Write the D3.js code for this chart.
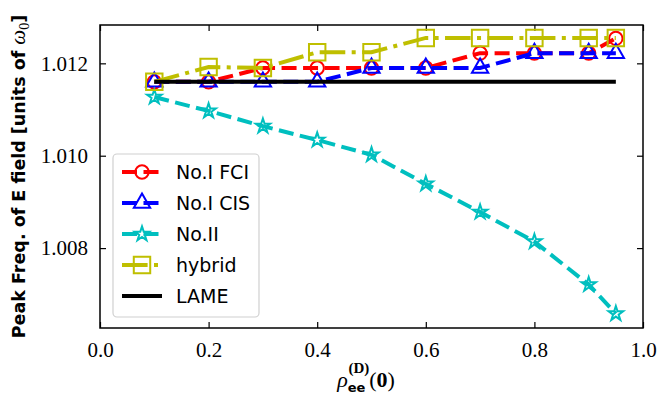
<!DOCTYPE html>
<html>
<head>
  <meta charset="utf-8">
  <title>Peak frequency vs rho</title>
  <script src="https://d3js.org/d3.v7.min.js"></script>
  <style type="text/css">
    body { margin: 0; background: #fff; }
    .tick text { font-family: "Liberation Serif", serif; font-size: 21px; }
  </style>
</head>
<body>
<script>

var width = 660;
var height = 399;
var margin = {top: 25, right: 17, bottom: 71, left: 100};

// data
var rho = [0.1, 0.2, 0.3, 0.4, 0.5, 0.6, 0.7, 0.8, 0.9, 0.95];
var fci = [1.0116, 1.0116, 1.0119, 1.0119, 1.0119, 1.0119, 1.01222, 1.01222, 1.01222, 1.01254];
var cis = [1.0116, 1.0116, 1.0116, 1.0116, 1.0119, 1.0119, 1.0119, 1.01222, 1.01222, 1.01222];
var no2 = [1.01127, 1.01097, 1.01064, 1.01034, 1.01002, 1.00939, 1.00878, 1.00814, 1.00721, 1.00658];
var hybrid = [1.0116, 1.01192, 1.0119, 1.01224, 1.01224, 1.01255, 1.01255, 1.01255, 1.01255, 1.01255];
var lame = [1.0116, 1.0116, 1.0116, 1.0116, 1.0116, 1.0116, 1.0116, 1.0116, 1.0116, 1.0116];

var xTicks = [0.0, 0.2, 0.4, 0.6, 0.8, 1.0];
var yTicks = [1.008, 1.010, 1.012];

var lw = 4;
var series = [
  {name: "No.I FCI", values: fci, color: "#ff0000", dash: "15,6.5", symbol: d3.symbolCircle, size: 140},
  {name: "No.I CIS", values: cis, color: "#0000ff", dash: "15,6.5", symbol: d3.symbolTriangle, size: 115},
  {name: "No.II", values: no2, color: "#00bfbf", dash: "15,6.5", symbol: d3.symbolStar, size: 65},
  {name: "hybrid", values: hybrid, color: "#bfbf00", dash: "25.6,6.4,4,6.4", symbol: d3.symbolSquare, size: 270},
  {name: "LAME", values: lame, color: "#000000", dash: null, symbol: null}
];

var svg = d3.select("body").append("svg").attr("width", width).attr("height", height);

var x = d3.scaleLinear().domain([0, 1]).range([margin.left, width - margin.right]);
var y = d3.scaleLinear().domain([1.00627, 1.01283]).range([height - margin.bottom, margin.top]);

// axes, ticks pointing inward
svg.append("g").attr("transform", "translate(0," + (height - margin.bottom) + ")")
  .call(d3.axisBottom(x).tickValues(xTicks).tickFormat(d3.format(".1f")).tickSizeInner(-6).tickSizeOuter(0).tickPadding(14));
svg.append("g").attr("transform", "translate(0," + margin.top + ")")
  .call(d3.axisTop(x).tickValues(xTicks).tickFormat("").tickSizeInner(-6).tickSizeOuter(0));
svg.append("g").attr("transform", "translate(" + margin.left + ",0)")
  .call(d3.axisLeft(y).tickValues(yTicks).tickFormat(d3.format(".3f")).tickSizeInner(-6).tickSizeOuter(0).tickPadding(12));
svg.append("g").attr("transform", "translate(" + (width - margin.right) + ",0)")
  .call(d3.axisRight(y).tickValues(yTicks).tickFormat("").tickSizeInner(-6).tickSizeOuter(0));

svg.selectAll(".domain").remove();
svg.selectAll(".tick line").attr("stroke", "#000").attr("stroke-width", 1.2);
svg.selectAll(".tick text").attr("fill", "#000");

// frame
svg.append("rect")
  .attr("x", margin.left).attr("y", margin.top)
  .attr("width", width - margin.left - margin.right)
  .attr("height", height - margin.top - margin.bottom)
  .attr("fill", "none").attr("stroke", "#000").attr("stroke-width", 1.5);

var line = d3.line()
  .x(function(d, i){ return x(rho[i]); })
  .y(function(d){ return y(d); });

series.forEach(function(s){
  svg.append("path")
    .datum(s.values)
    .attr("d", line)
    .attr("fill", "none")
    .attr("stroke", s.color)
    .attr("stroke-width", lw)
    .attr("stroke-dasharray", s.dash);
  if (s.symbol) {
    svg.selectAll(null)
      .data(s.values)
      .enter()
      .append("path")
      .attr("d", d3.symbol().type(s.symbol).size(s.size))
      .attr("transform", function(d, i){ return "translate(" + x(rho[i]) + "," + y(d) + ")"; })
      .attr("fill", "none")
      .attr("stroke", s.color)
      .attr("stroke-width", 2);
  }
});

// legend
var lg = svg.append("g");
lg.append("rect")
  .attr("x", 113).attr("y", 154).attr("width", 146).attr("height", 163)
  .attr("rx", 4).attr("fill", "#fff").attr("fill-opacity", 0.8)
  .attr("stroke", "#d0d0d0").attr("stroke-width", 1.2);

series.forEach(function(s, i){
  var ly = 172 + i * 31;
  lg.append("line")
    .attr("x1", 122).attr("x2", 162).attr("y1", ly).attr("y2", ly)
    .attr("stroke", s.color).attr("stroke-width", lw)
    .attr("stroke-dasharray", s.dash);
  if (s.symbol) {
    lg.append("path")
      .attr("d", d3.symbol().type(s.symbol).size(s.size))
      .attr("transform", "translate(142," + ly + ")")
      .attr("fill", "none").attr("stroke", s.color).attr("stroke-width", 2);
  }
  lg.append("text")
    .attr("x", 176).attr("y", ly + 7)
    .attr("font-family", "DejaVu Sans").attr("font-size", 19)
    .text(s.name);
});

// y label
var yl = svg.append("text")
  .attr("transform", "translate(25," + ((margin.top + height - margin.bottom) / 2) + ") rotate(-90)")
  .attr("text-anchor", "middle")
  .attr("font-family", "DejaVu Sans").attr("font-size", 17.5).attr("font-weight", "bold");
yl.append("tspan").text("Peak Freq. of E field [units of ");
yl.append("tspan").attr("font-family", "Liberation Serif").attr("font-style", "italic").attr("font-weight", "normal").attr("font-size", 21).text("ω");
yl.append("tspan").attr("font-family", "Liberation Serif").attr("font-weight", "normal").attr("font-size", 14).attr("dy", 4).text("0");
yl.append("tspan").attr("dy", -4).text("]");

// x label
var xl = svg.append("text")
  .attr("x", x(0.49)).attr("y", 387)
  .attr("text-anchor", "middle")
  .attr("font-family", "Liberation Serif").attr("font-size", 22);
xl.append("tspan").attr("font-style", "italic").text("ρ");
xl.append("tspan").attr("font-family", "DejaVu Sans").attr("font-weight", "bold").attr("font-size", 13).attr("dy", 5).text("ee");
xl.append("tspan").attr("font-weight", "bold").attr("font-size", 15).attr("dx", -17).attr("dy", -19).text("(D)");
xl.append("tspan").attr("dy", 14).text("(");
xl.append("tspan").attr("font-weight", "bold").text("0");
xl.append("tspan").text(")");

</script>
</body>
</html>
